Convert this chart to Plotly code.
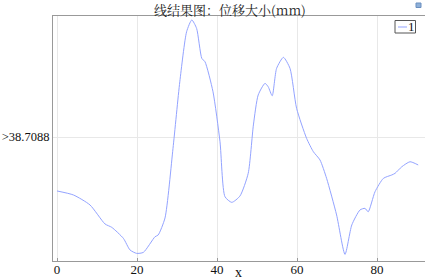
import plotly.graph_objects as go

x_vals = [0, 4.1, 8.25, 12, 13.7, 16.6, 18.25, 19.9, 21.6, 24.5, 25.3, 27, 29, 30.7, 32.4, 33.7,
          34.9, 36.2, 37, 39, 40.75, 42, 43.7, 45.75, 47.8, 49.1, 50.3, 52, 52.8, 53.8, 54.9,
          56.6, 58.25, 59.9, 62.4, 64.1, 65.75, 67.4, 69.9, 72, 73.7, 75.75, 77, 77.8, 79.5,
          81.6, 83.7, 84.5, 86.2, 88.25, 90.3]
disp_mm = [38.439, 38.419, 38.369, 38.274, 38.257, 38.202, 38.144, 38.127, 38.132, 38.210,
           38.219, 38.304, 38.652, 38.985, 39.235, 39.294, 39.252, 39.102, 39.085, 38.935,
           38.685, 38.410, 38.382, 38.414, 38.527, 38.769, 38.919, 38.977, 38.960, 38.915,
           39.052, 39.107, 39.052, 38.852, 38.702, 38.635, 38.594, 38.502, 38.319, 38.122,
           38.269, 38.344, 38.352, 38.335, 38.435, 38.502, 38.519, 38.527, 38.560, 38.585,
           38.569]
x_ticks = [0, 20, 40, 60, 80]
y_ticks = [38.7088]
y_tick_text = [">38.7088"]
legend_label = "1"

serif = "Liberation Serif, Times New Roman, Noto Sans CJK SC, serif"
line_color = "#93a3ff"

W, H = 425, 279
L, R, T, B = 53, 0, 16, 18
pw, ph = W - L - R, H - T - B

def px(xp):
    return (xp - L) / pw

def py(yp):
    return (H - B - yp) / ph

fig = go.Figure()
fig.add_trace(go.Scatter(x=x_vals, y=disp_mm, mode="lines", name=legend_label,
                         line=dict(color=line_color, width=1, shape="spline", smoothing=0.6),
                         showlegend=False, hoverinfo="skip"))

shapes = [
    dict(type="rect", xref="paper", yref="paper", x0=px(395), x1=px(415.5), y0=py(33), y1=py(20.5),
         line=dict(color="#555", width=1), fillcolor="white", layer="above"),
    dict(type="line", xref="paper", yref="paper", x0=px(398), x1=px(407), y0=py(27), y1=py(27),
         line=dict(color=line_color, width=1), layer="above"),
    dict(type="rect", xref="paper", yref="paper", x0=px(416), x1=px(421), y0=py(7.5), y1=py(3),
         line=dict(color="#6a8fc0", width=1), fillcolor="#8fb0d8", layer="above"),
]
annotations = [
    dict(text=legend_label, xref="paper", yref="paper", x=px(411), y=py(27), showarrow=False,
         xanchor="center", yanchor="middle", font=dict(family=serif, size=13, color="#111")),
    dict(text="x", xref="paper", yref="paper", x=px(238), y=py(272), showarrow=False,
         xanchor="center", yanchor="middle", font=dict(family=serif, size=14, color="#111")),
    dict(text="线结果图：位移大小(mm)", xref="paper", yref="paper", x=px(230), y=py(9),
         showarrow=False, xanchor="center", yanchor="middle",
         font=dict(family="Noto Serif CJK SC, Liberation Serif, serif", size=13, color="#222")),
]

fig.update_layout(
    width=W, height=H,
    margin=dict(l=L, r=R, t=T, b=B, autoexpand=False),
    paper_bgcolor="white", plot_bgcolor="white",
    font=dict(family=serif, size=13, color="#111"),
    showlegend=False,
    shapes=shapes,
    annotations=annotations,
    xaxis=dict(range=[-1, 92], tickvals=x_ticks, showgrid=True, gridcolor="#e8e8e8", gridwidth=1,
               zeroline=False, showline=True, linecolor="#999", mirror=True,
               ticks="inside", ticklen=3, tickcolor="#999", automargin=False,
               ticklabelstandoff=-4, tickfont=dict(size=13)),
    yaxis=dict(range=[38.0888, 39.3138], tickvals=y_ticks, ticktext=y_tick_text,
               showgrid=True, gridcolor="#e8e8e8", zeroline=False, showline=True,
               linecolor="#999", ticks="", tickfont=dict(size=12.5), automargin=False,
               ticklabelstandoff=0),
)

fig.write_html("out.html", config={"displayModeBar": False},
               post_script="document.body.style.margin='0';document.body.style.overflow='hidden';")
